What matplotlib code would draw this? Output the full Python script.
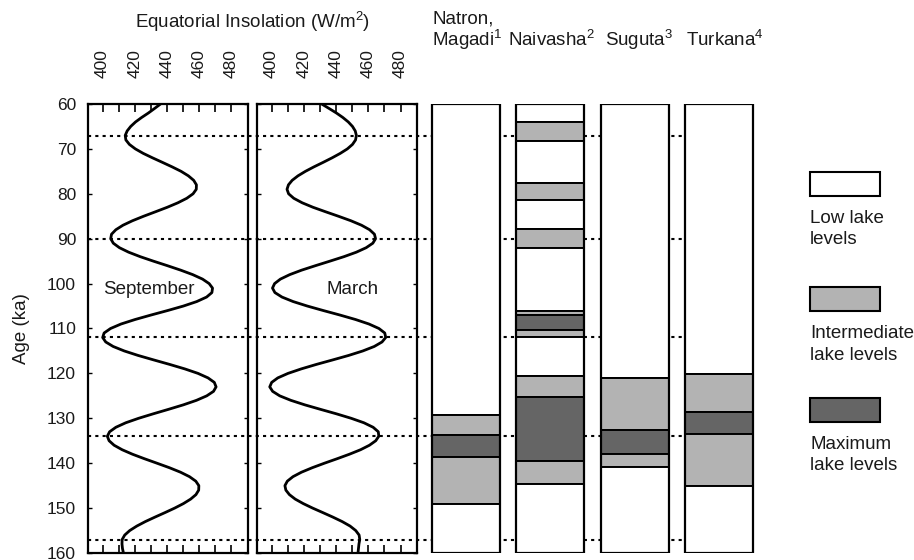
import matplotlib
matplotlib.use('Agg')
import matplotlib.pyplot as plt
from matplotlib.patches import Rectangle

plt.rcParams['font.family'] = ['Liberation Sans', 'DejaVu Sans']
plt.rcParams['mathtext.default'] = 'regular'

# ---------------- data ----------------
ages = list(range(60, 161))
september = [436.0, 432.3, 428.5, 424.3, 420.5, 417.5, 415.3, 414.1, 414.5, 416.7,
             420.4, 425.3, 431.1, 437.2, 443.2, 448.8, 453.3, 456.6, 458.3, 458.2,
             456.2, 452.3, 446.8, 440.2, 432.9, 425.5, 418.6, 412.7, 408.3, 405.6,
             405.1, 406.7, 410.5, 416.2, 423.4, 431.6, 440.2, 448.5, 456.0, 462.1,
             466.2, 468.3, 467.9, 464.6, 458.5, 450.2, 440.4, 430.1, 420.2, 411.5,
             405.0, 401.0, 400.1, 402.0, 406.6, 413.5, 422.1, 431.8, 441.7, 451.1,
             459.3, 465.5, 469.4, 470.5, 468.9, 464.7, 458.3, 450.2, 441.0, 431.5,
             422.4, 414.4, 408.3, 404.4, 403.0, 404.1, 407.2, 412.2, 418.6, 426.0,
             433.8, 441.5, 448.4, 454.0, 457.9, 459.8, 459.7, 458.0, 454.7, 450.2,
             444.8, 438.8, 432.6, 426.6, 421.3, 416.9, 413.8, 412.2, 412.1, 412.4,
             413.0]
march = [431.1, 435.7, 440.2, 444.2, 447.6, 450.2, 451.9, 452.6, 452.1, 450.2,
         447.0, 442.6, 437.5, 432.0, 426.3, 421.0, 416.4, 412.8, 410.5, 409.6,
         410.6, 413.8, 419.0, 425.7, 433.5, 441.5, 449.2, 455.8, 460.8, 463.8,
         464.5, 462.8, 458.7, 452.6, 444.9, 436.2, 427.3, 418.7, 411.3, 405.5,
         401.9, 400.6, 402.1, 406.5, 413.4, 422.2, 432.1, 442.4, 452.1, 460.4,
         466.6, 470.2, 470.8, 468.5, 463.7, 456.6, 447.8, 437.9, 427.8, 418.4,
         410.2, 403.9, 400.1, 398.9, 400.7, 405.1, 412.0, 420.6, 430.3, 440.2,
         449.4, 457.3, 463.0, 466.2, 466.5, 464.6, 460.7, 455.2, 448.3, 440.7,
         432.8, 425.3, 418.6, 413.3, 409.8, 408.3, 408.9, 411.1, 414.7, 419.7,
         425.5, 431.8, 438.0, 443.8, 448.7, 452.2, 454.3, 454.7, 454.2, 453.9,
         453.6]
dotted_ages = [67.2, 90.1, 112.0, 134.0, 157.2]

insol_ticks = [400, 420, 440, 460, 480]
age_ticks = list(range(60, 161, 10))

lake_names = ['Natron', 'Naivasha', 'Suguta', 'Turkana']
natron_bounds = [60, 129.2, 133.7, 138.7, 149.0, 160]
natron_levels = ['low', 'int', 'max', 'int', 'low']
naivasha_bounds = [60, 63.9, 68.3, 77.5, 81.3, 87.8, 92.0, 106.1, 107.1, 110.4,
                   111.8, 120.5, 125.3, 139.4, 144.7, 160]
naivasha_levels = ['low', 'int', 'low', 'int', 'low', 'int', 'low', 'int', 'max',
                   'int', 'low', 'int', 'max', 'int', 'low']
suguta_bounds = [60, 121.0, 132.7, 137.9, 140.9, 160]
suguta_levels = ['low', 'int', 'max', 'int', 'low']
turkana_bounds = [60, 120.2, 128.6, 133.6, 145.0, 160]
turkana_levels = ['low', 'int', 'max', 'int', 'low']

level_keys = ['low', 'int', 'max']
level_labels = ['Low lake\nlevels', 'Intermediate\nlake levels', 'Maximum\nlake levels']
level_colors = {'low': '#ffffff', 'int': '#b3b3b3', 'max': '#656565'}

# ---------------- layout ----------------
W, H = 914, 560
fig = plt.figure(figsize=(W / 100, H / 100), dpi=100)
TOP, BOT = 104, 553


def fx(px):
    return px / W


def fy(py):
    return 1 - py / H


def rect(left, right):
    return [fx(left), fy(BOT), (right - left) / W, (BOT - TOP) / H]


FS = 13.5
TFS = 12.5
TXT = '#1a1a1a'

# background dotted lines
bg = fig.add_axes([0, fy(BOT), 1, (BOT - TOP) / H])
bg.set_xlim(0, W)
bg.set_ylim(160, 60)
bg.axis('off')
for a in dotted_ages:
    bg.plot([88, 740], [a, a], color='black', lw=1.5, linestyle=(0, (1.5, 2.0)))

panels = [(88, 247.5, september, 'September', 428.5, True),
          (257, 416.7, march, 'March', 450.0, False)]
for left, right, series, name, lx, first in panels:
    ax = fig.add_axes(rect(left, right))
    ax.set_facecolor('none')
    ax.plot(series, ages, color='black', lw=2.0, solid_joinstyle='round')
    ax.set_xlim(391, 490)
    ax.set_ylim(160, 60)
    ax.set_xticks(insol_ticks)
    ax.set_xticks([t + 10 for t in insol_ticks[:-1]], minor=True)
    ax.set_yticks(age_ticks)
    ax.tick_params(axis='x', which='both', direction='in', length=6, width=1.2,
                   top=True, bottom=True, labeltop=True, labelbottom=False,
                   labelrotation=90, pad=18.5, labelsize=TFS, labelcolor=TXT)
    ax.tick_params(axis='y', direction='in', length=3, width=1.0, left=True,
                   right=True, labelleft=first, pad=8.6, labelsize=TFS,
                   labelcolor=TXT)
    for s in ax.spines.values():
        s.set_linewidth(1.6)
    ax.text(lx, 101.3, name, ha='center', va='center', fontsize=FS, color=TXT)
    if first:
        ax.set_ylabel('Age (ka)', fontsize=FS, labelpad=12, color=TXT)

fig.text(fx(252), fy(28), 'Equatorial Insolation (W/m$^2$)', ha='center',
         va='baseline', fontsize=FS, color=TXT)

# lake columns
lk = fig.add_axes(rect(423.8, 761.2))
lk.set_xlim(-0.5, 3.5)
lk.set_ylim(160, 60)
lk.axis('off')
all_bounds = [natron_bounds, naivasha_bounds, suguta_bounds, turkana_bounds]
all_levels = [natron_levels, naivasha_levels, suguta_levels, turkana_levels]
bw = 0.806
for i, (bounds, levels) in enumerate(zip(all_bounds, all_levels)):
    for b0, b1, lev in zip(bounds[:-1], bounds[1:], levels):
        lk.bar(i, b1 - b0, bottom=b0, width=bw, color=level_colors[lev],
               edgecolor='black', linewidth=1.4, zorder=2)
    lk.bar(i, bounds[-1] - bounds[0], bottom=bounds[0], width=bw, fill=False,
           edgecolor='black', linewidth=1.6, zorder=3)

# lake headers
fig.text(fx(432), fy(23), 'Natron,', ha='left', va='baseline', fontsize=FS, color=TXT)
fig.text(fx(432), fy(46), 'Magadi$^1$', ha='left', va='baseline', fontsize=FS, color=TXT)
fig.text(fx(508), fy(46), 'Naivasha$^2$', ha='left', va='baseline', fontsize=FS, color=TXT)
fig.text(fx(605), fy(46), 'Suguta$^3$', ha='left', va='baseline', fontsize=FS, color=TXT)
fig.text(fx(686), fy(46), 'Turkana$^4$', ha='left', va='baseline', fontsize=FS, color=TXT)

# legend
lg = fig.add_axes([0, 0, 1, 1])
lg.set_xlim(0, W)
lg.set_ylim(H, 0)
lg.axis('off')
box_tops = [172, 287, 398]
for key, label, bt in zip(level_keys, level_labels, box_tops):
    lg.add_patch(Rectangle((810, bt), 70, 23.5, facecolor=level_colors[key],
                           edgecolor='black', linewidth=1.5))
    for j, line in enumerate(label.split('\n')):
        lg.text(810, bt + 51 + j * 21.5, line, ha='left', va='baseline',
                fontsize=FS, color=TXT)

fig.savefig('out.png', dpi=100)
